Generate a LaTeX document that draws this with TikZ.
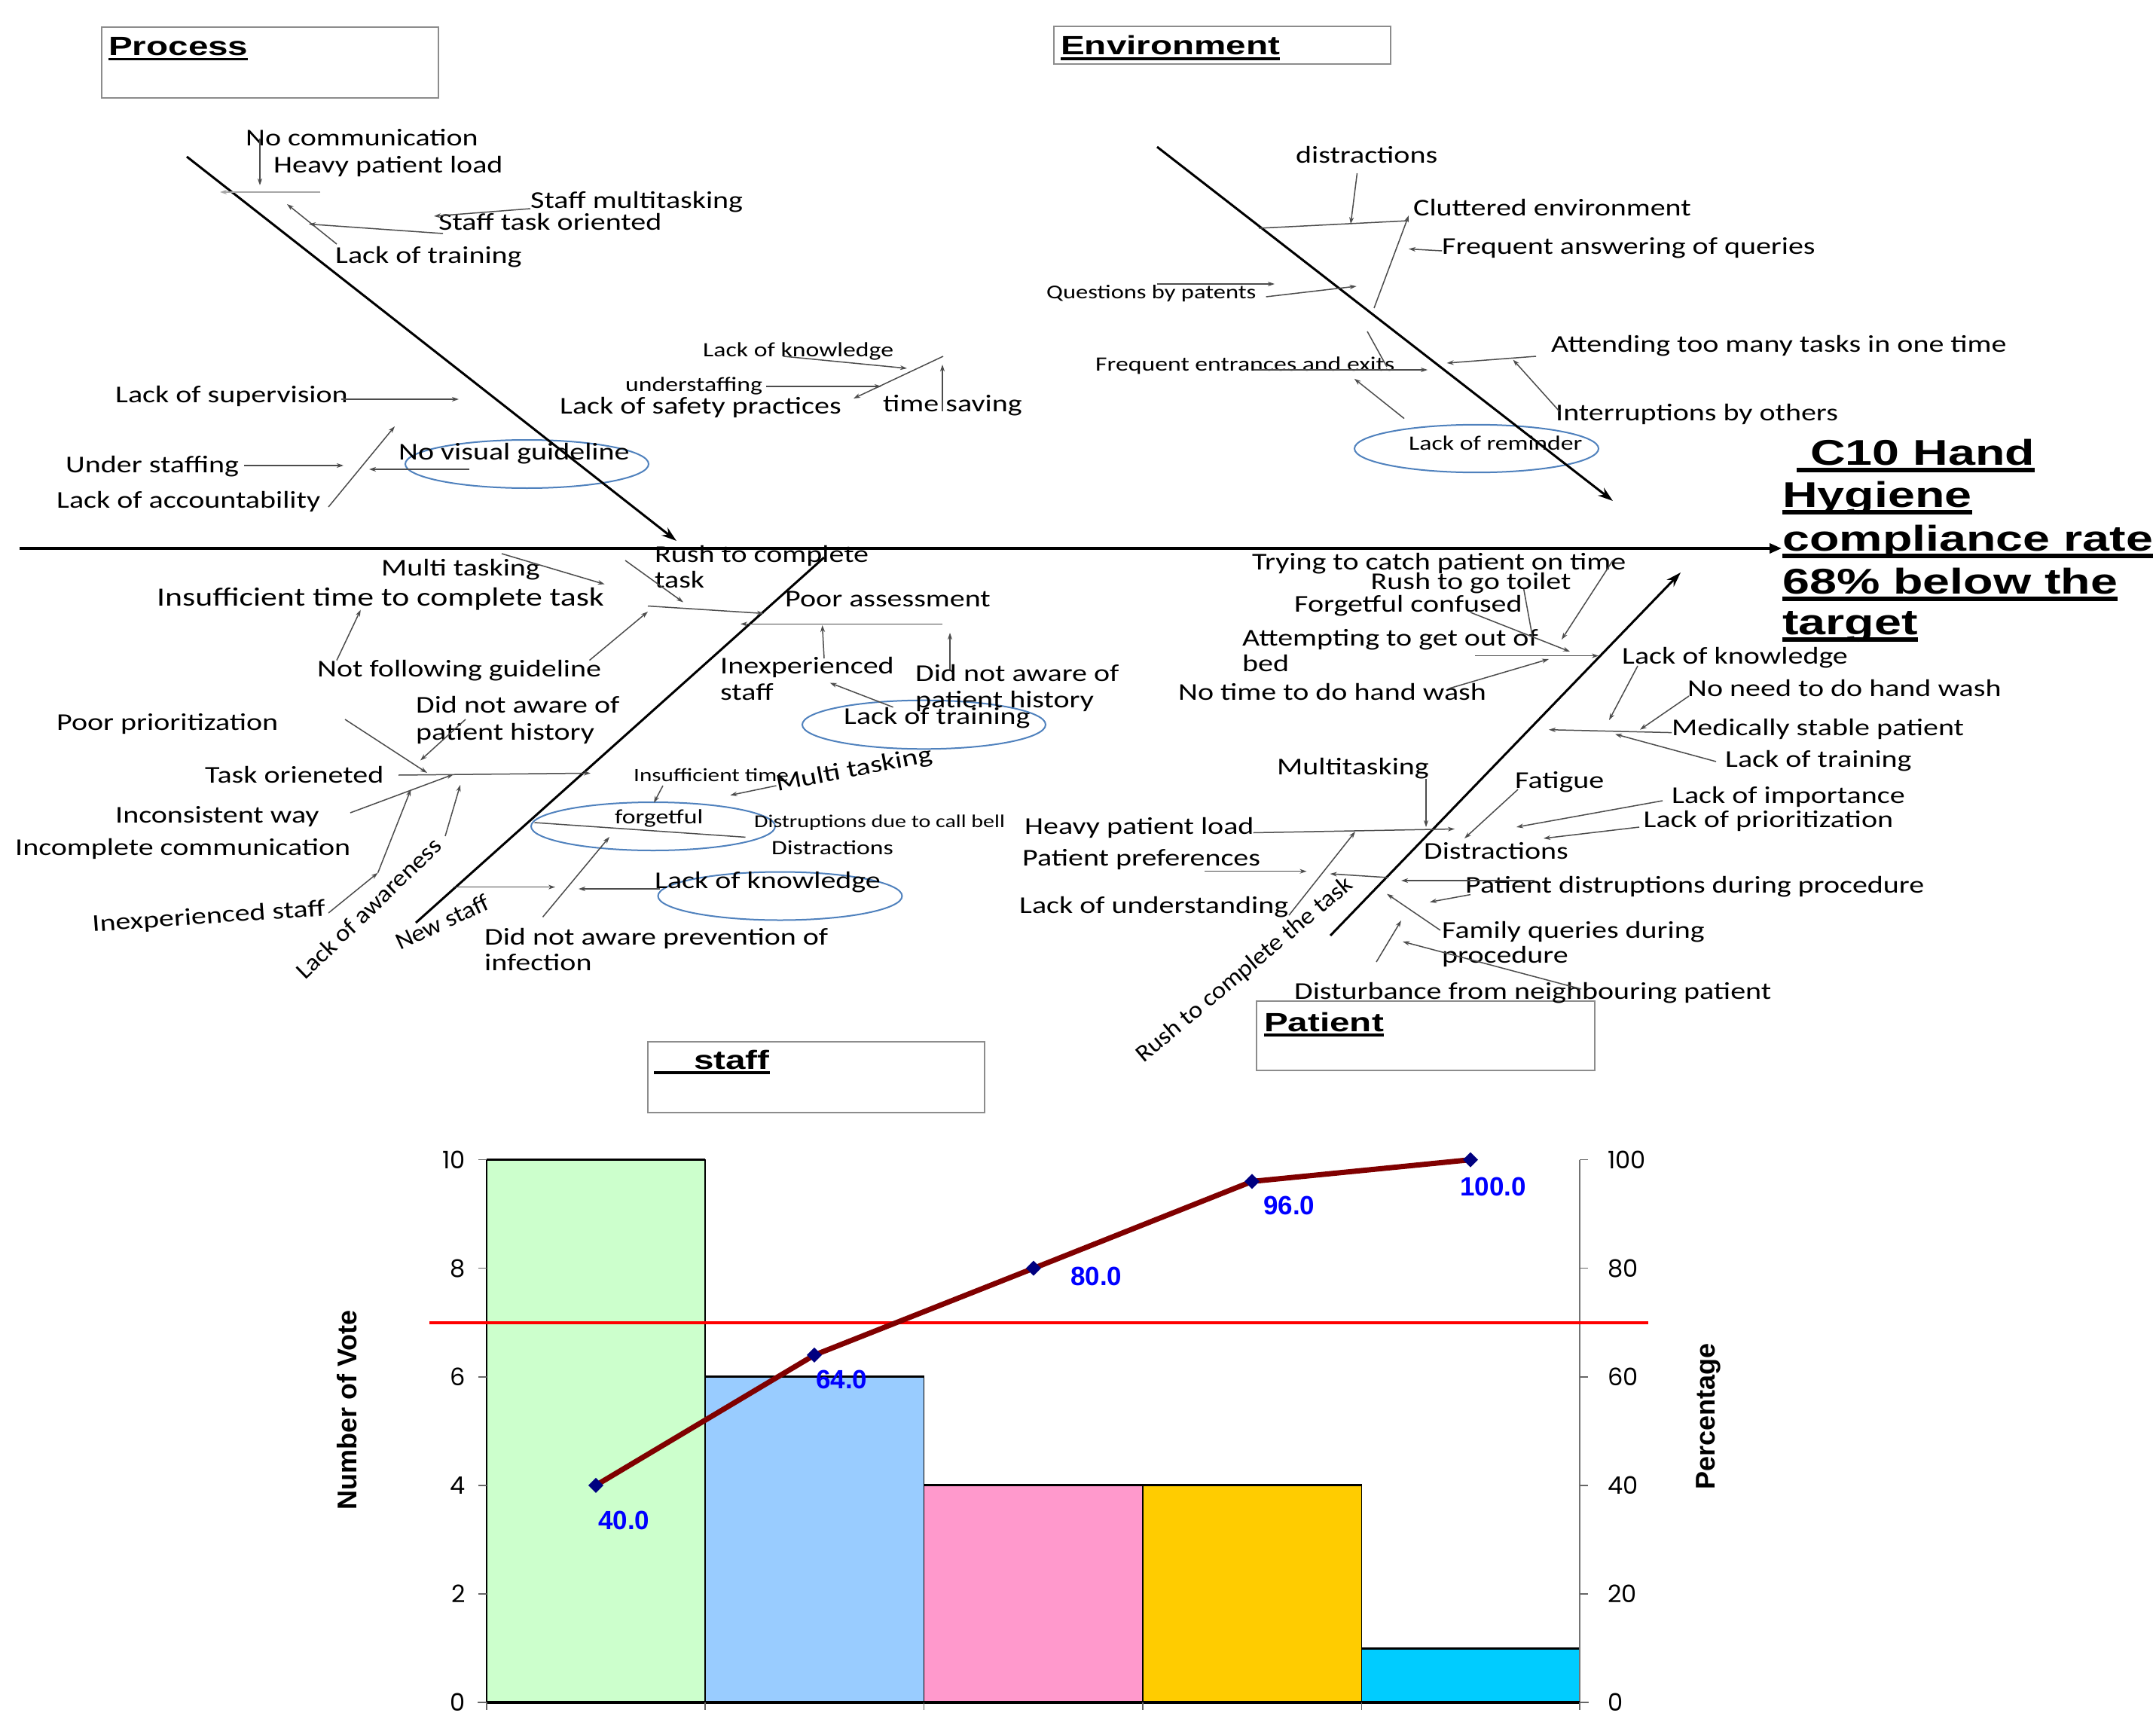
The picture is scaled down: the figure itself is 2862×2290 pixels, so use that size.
\documentclass[tikz,border=0pt]{standalone}
\usepackage{fontspec}
\setmainfont{Carlito}
\newfontfamily\calf[FakeStretch=1.25]{Carlito}
\newfontfamily\calr[FakeStretch=1.08]{Carlito}
\newfontfamily\arbf[FakeStretch=1.36]{Liberation Sans}
\newfontfamily\arpl{Liberation Sans}
\newfontfamily\popf{Poppins}
\usetikzlibrary{arrows.meta}
\newcommand\fsz[1]{\fontsize{#1}{#1}\selectfont}
\newcommand\myul[1]{\setbox0=\hbox{#1}\rlap{\rule[-0.2em]{\wd0}{0.11em}}\box0}
\definecolor{ellc}{RGB}{79,129,189}
\definecolor{barA}{HTML}{CCFFCC}
\definecolor{barB}{HTML}{99CCFF}
\definecolor{barC}{HTML}{FF99CC}
\definecolor{barD}{HTML}{FFCC00}
\definecolor{barE}{HTML}{00CCFF}
\definecolor{cum}{HTML}{800000}
\definecolor{navy}{HTML}{000080}
\tikzset{
  con/.style={draw=black!70, line width=1.5pt},
  arr/.style={con, -{Stealth[length=9pt,width=6pt]}},
  spine/.style={draw=black, line width=3pt},
  spinearr/.style={spine, -{Stealth[length=20pt,width=13pt]}},
  ell/.style={draw=ellc, line width=2pt},
  catbox/.style={draw=black!45, line width=1.5pt},
  t/.style={anchor=base west, inner sep=0pt, font=\calf\fsz{32}},
  ts/.style={t, font=\calf\fsz{27}},
  tr/.style={anchor=base west, inner sep=0pt, font=\calr\fsz{32}},
  hdr/.style={anchor=base west, inner sep=0pt, font=\arbf\bfseries\fsz{35}},
  ttl/.style={anchor=base west, inner sep=0pt, font=\arbf\bfseries\fsz{47.5}},
  tick/.style={inner sep=0pt, font=\popf\fsz{32}},
  dlab/.style={anchor=base west, inner sep=0pt, text=blue, font=\arpl\bfseries\fsz{35}},
  axt/.style={rotate=90, inner sep=0pt, font=\arpl\bfseries\fsz{36}},
}
\begin{document}
\begin{tikzpicture}[x=1pt,y=-1pt]
\fill[white] (0,0) rectangle (2862,2290);
\useasboundingbox (0,0) rectangle (2862,2290);

% ---------- main line ----------
\draw[line width=3.5pt, -{Triangle[length=16pt,width=13pt]}] (26,728) -- (2365,728);

% ---------- PROCESS ----------
\draw[catbox] (135,36) rectangle (582,130);
\node[hdr] (procT) at (144,73.5) {\myul{Process}};
\draw[ell] (699.5,616) ellipse [x radius=161.5, y radius=32];
\draw[spinearr] (248,208) -- (898,718);
\node[t] (pc1) at (326,194) {No communication};
\node[t] (pc2) at (363,230) {Heavy patient load};
\node[t] (pc3) at (704,277) {Staff multitasking};
\node[t] (pc4) at (582,306) {Staff task oriented};
\node[t] (pc5) at (445,350) {Lack of training};
\node[ts] (pc6) at (933,473) {Lack of knowledge};
\node[ts] (pc7) at (830,519) {understaffing};
\node[t] (pc8) at (743,549) {Lack of safety practices};
\node[t] (pc9) at (1172,546) {time saving};
\node[t] (pc10) at (153,534) {Lack of supervision};
\node[t] (pc11) at (87,627) {Under staffing};
\node[t] (pc12) at (75,674) {Lack of accountability};
\node[t] (pc13) at (529,610) {No visual guideline};
\draw[arr] (345,184) -- (345,246);
\draw[arr, draw=black!35] (425,255) -- (292,255);
\draw[arr] (704,277) -- (576,287);
\draw[arr] (588,310) -- (410,297.5);
\draw[arr] (447,324) -- (381,271);
\draw[arr] (1040,473) -- (1204,489);
\draw[arr] (1252,473) -- (1133,529);
\draw[arr] (1017,513) -- (1170,513);
\draw[arr] (1251,546) -- (1251,484);
\draw[arr] (453,530) -- (609,530);
\draw[arr] (436,673) -- (524,566);
\draw[arr] (324,618) -- (456,618);
\draw[arr] (623,623) -- (490,623);

% ---------- ENVIRONMENT ----------
\draw[catbox] (1399,35) rectangle (1846,85);
\node[hdr] (envT) at (1408,73) {\myul{Environment}};
\draw[ell] (1960,595.5) ellipse [x radius=162, y radius=31.7];
\draw[spinearr] (1536,195) -- (2141,665);
\node[t] (en1) at (1720,217) {distractions};
\node[t] (en2) at (1876,287) {Cluttered environment};
\node[t] (en3) at (1914,337.5) {Frequent answering of queries};
\node[t, font=\calf\fsz{26}] (en4) at (1389,397) {Questions by patents};
\node[t] (en5) at (2059,467) {Attending too many tasks in one time};
\node[t] (en6) at (2065,558) {Interruptions by others};
\node[ts] (en7) at (1454,492) {Frequent entrances and exits};
\node[ts] (en8) at (1870,597) {Lack of reminder};
\draw[arr] (1801.5,230) -- (1793,297.5);
\draw[con] (1671,303) -- (1870,293);
\draw[arr] (1824,409) -- (1870,286);
\draw[arr] (1914,333) -- (1870,330.5);
\draw[arr] (1536,377) -- (1692,377);
\draw[arr] (1680.6,394) -- (1800.6,380);
\draw[arr] (2039,473) -- (1920.6,482);
\draw[arr] (2070,546) -- (2008.5,477.5);
\draw[arr] (1663.6,491) -- (1895,491);
\draw[con] (1815,440) -- (1841,487);
\draw[arr] (1864,555.6) -- (1797.8,502.8);

% ---------- TITLE ----------
\node[ttl] (ti1) at (2385,617) {\myul{\ C10 Hand}};
\node[ttl] (ti2) at (2366,673) {\myul{Hygiene}};
\node[ttl] (ti3) at (2366,731) {\myul{compliance rate}};
\node[ttl] (ti4) at (2366,788) {\myul{68\% below the}};
\node[ttl] (ti5) at (2366,842) {\myul{target}};

% ---------- STAFF ----------
\draw[catbox] (860,1383) rectangle (1307,1477);
\node[hdr] (stT) at (868,1419) {\myul{\ \ \ \ staff}};
\draw[ell] (1226.5,962) ellipse [x radius=161.5, y radius=32.3];
\draw[ell] (1035.5,1189.5) ellipse [x radius=162, y radius=32];
\draw[ell] (867,1097) ellipse [x radius=162, y radius=32];
\draw[spine] (552,1225) -- (1094,740);
\node[t] (st1) at (869,746) {Rush to complete};
\node[t] (st2) at (869,780) {task};
\node[t] (st3) at (506,764) {Multi tasking};
\node[t, font=\calf\fsz{35}] (st4) at (208,804.5) {Insufficient time to complete task};
\node[t] (st5) at (421,898) {Not following guideline};
\node[t] (st6) at (1042,805.5) {Poor assessment};
\node[t] (st7) at (956,894) {Inexperienced};
\node[t] (st8) at (956,929) {staff};
\node[t] (st9) at (1215,904) {Did not aware of};
\node[t] (st10) at (1215,939) {patient history};
\node[t] (st11) at (1120,961) {Lack of training};
\node[t] (st12) at (552,946) {Did not aware of};
\node[t] (st13) at (552,982) {patient history};
\node[t] (st14) at (75,969) {Poor prioritization};
\node[t] (st15) at (272,1039) {Task orieneted};
\node[t] (st16) at (153,1092) {Inconsistent way};
\node[t] (st17) at (20,1135) {Incomplete communication};
\node[t, rotate=4] (st18) at (123,1237) {Inexperienced staff};
\node[tr, rotate=44] (st19) at (405,1302) {Lack of awareness};
\node[tr, rotate=25] (st20) at (531,1262) {New staff};
\node[t] (st21) at (869,1179) {Lack of knowledge};
\node[t] (st22) at (643,1254) {Did not aware prevention of};
\node[t] (st23) at (643,1288) {infection};
\node[ts] (st24) at (816,1093) {forgetful};
\node[t, font=\calf\fsz{25}] (st25) at (841,1037) {Insufficient time};
\node[t, rotate=11] (st26) at (1032,1051) {Multi tasking};
\node[t, font=\calf\fsz{24}] (st27) at (1001,1098) {Distruptions due to call bell};
\node[ts] (st28) at (1024,1134) {Distractions};
\draw[arr] (830,744) -- (907,799.5);
\draw[arr] (666,735) -- (802.6,775.6);
\draw[arr] (860,804.5) -- (1014,814.4);
\draw[arr] (782.5,876.6) -- (860,812);
\draw[arr] (447,876.6) -- (478.8,809.5);
\draw[arr] (1251,828.4) -- (983,828.4);
\draw[arr] (1094,874) -- (1091.6,830);
\draw[arr] (1261,889) -- (1261,840);
\draw[arr] (1185.6,938.8) -- (1101.7,906.5);
\draw[arr] (458,955) -- (567,1026);
\draw[arr] (618,955) -- (558,1009.5);
\draw[arr] (529,1029) -- (784,1026.4);
\draw[arr] (465,1079) -- (602,1028);
\draw[arr] (591,1110) -- (611,1042);
\draw[arr] (436,1212) -- (501.6,1158.7);
\draw[arr] (501.6,1158.7) -- (545.4,1048);
\draw[arr] (602,1177.6) -- (737,1177.6);
\draw[arr] (875.5,1180) -- (768,1180);
\draw[arr] (720.5,1217.4) -- (809,1111);
\draw[con] (709.5,1092) -- (989.5,1111.4);
\draw[arr] (880,1043) -- (868,1065.7);
\draw[arr] (1030.5,1043) -- (969.4,1055.7);

% ---------- PATIENT ----------
\draw[catbox] (1668,1329) rectangle (2117,1421);
\node[hdr] (paT) at (1678,1369) {\myul{Patient}};
\draw[spinearr] (1766,1242) -- (2231,760);
\node[t] (pa1) at (1662,756) {Trying to catch patient on time};
\node[t] (pa2) at (1819.5,782) {Rush to go toilet};
\node[t] (pa3) at (1718,812) {Forgetful confused};
\node[t] (pa4) at (1649,857) {Attempting to get out of};
\node[t] (pa5) at (1649,891.5) {bed};
\node[t] (pa6) at (1564,929) {No time to do hand wash};
\node[t] (pa7) at (2153,881.6) {Lack of knowledge};
\node[t] (pa8) at (2240,924) {No need to do hand wash};
\node[t] (pa9) at (2219,976) {Medically stable patient};
\node[t] (pa10) at (2290,1018) {Lack of training};
\node[t] (pa11) at (1695,1028) {Multitasking};
\node[t] (pa12) at (1360,1107) {Heavy patient load};
\node[t] (pa13) at (2011,1046) {Fatigue};
\node[t] (pa14) at (2219,1066) {Lack of importance};
\node[t] (pa15) at (2181.5,1098) {Lack of prioritization};
\node[t] (pa16) at (1890,1140) {Distractions};
\node[t] (pa17) at (1357,1149) {Patient preferences};
\node[t] (pa18) at (1945,1185) {Patient distruptions during procedure};
\node[t] (pa19) at (1353,1212.5) {Lack of understanding};
\node[t] (pa20) at (1914,1245) {Family queries during};
\node[t] (pa21) at (1914,1278) {procedure};
\node[t] (pa22) at (1718,1326) {Disturbance from neighbouring patient};
\node[tr, rotate=40] (pa23) at (1518,1412) {Rush to complete the task};
\draw[arr] (2141,744) -- (2073,849);
\draw[con] (2022.7,782) -- (2034,844);
\draw[arr] (1952,813) -- (2084,865);
\draw[arr] (1958,870.6) -- (2122,870.6);
\draw[arr] (1923.5,914) -- (2056,875);
\draw[arr] (2174,884) -- (2136,956);
\draw[arr] (2242,924) -- (2177,968.7);
\draw[arr] (2219,972.6) -- (2056,968.7);
\draw[arr] (2278,1011) -- (2144,974.6);
\draw[arr] (1893,1034) -- (1893,1098);
\draw[arr] (1663.6,1105.5) -- (1931,1100.5);
\draw[arr] (2015,1048) -- (1944,1113);
\draw[arr] (2207,1063) -- (2013,1098);
\draw[arr] (2176,1098) -- (2049,1113);
\draw[arr] (1599,1156.7) -- (1734.4,1156.7);
\draw[arr] (1843,1165) -- (1765.6,1160);
\draw[arr] (2037,1169) -- (1860,1169);
\draw[arr] (1952,1187.6) -- (1898,1197.5);
\draw[arr] (1711,1215) -- (1799,1104);
\draw[arr] (1912,1235) -- (1841,1186.6);
\draw[arr] (1827,1277) -- (1860,1222);
\draw[arr] (2099,1313) -- (1862,1250);

% ---------- PARETO CHART ----------
\draw[fill=barA, line width=1.5pt] (646,2260) rectangle (936,1539.6);
\draw[fill=barB, line width=1.5pt] (936,2260) rectangle (1226.5,1827.8);
\draw[fill=barC, line width=1.5pt] (1226.5,2260) rectangle (1517,1971.8);
\draw[fill=barD, line width=1.5pt] (1517,2260) rectangle (1807.5,1971.8);
\draw[fill=barE, line width=1.5pt] (1807.5,2260) rectangle (2097,2188);
\draw[line width=3pt] (646,1539.6) -- (936,1539.6);
\draw[line width=3pt] (936,1827.8) -- (1226.5,1827.8);
\draw[line width=3pt] (1226.5,1971.8) -- (1807.5,1971.8);
\draw[line width=3pt] (1807.5,2188) -- (2097,2188);
\draw[line width=1.5pt] (646,1539.6) -- (646,2260);
\draw[line width=1.5pt, black!55] (2097,1539.6) -- (2097,2260);
\draw[line width=1.5pt, black!55] (634,2260) -- (2109,2260);
\draw[line width=3.5pt] (646,2260) -- (2097,2260);
\foreach \k/\lab/\plab in {0/0/0,1/2/20,2/4/40,3/6/60,4/8/80,5/10/100}{
  \pgfmathsetmacro\yy{2260-144.08*\k}
  \draw[line width=1.5pt, black!60] (635,\yy) -- (646,\yy);
  \draw[line width=1.5pt, black!60] (2097,\yy) -- (2108,\yy);
  \node[tick, anchor=east] (yl\k) at (618,\yy) {\lab};
  \node[tick, anchor=west] (yr\k) at (2134,\yy) {\plab};
}
\foreach \xx in {646,936,1226.5,1517,1807.5,2097}{
  \draw[line width=1.2pt, black!60] (\xx,2260) -- (\xx,2270);
}
\draw[red, line width=4.5pt] (570,1756) -- (2188,1756);
\draw[cum, line width=7pt, line join=round] (791,1971.8) -- (1081,1798.9) -- (1372,1683.7) -- (1662,1568.4) -- (1952,1539.6);
\foreach \px/\py in {791/1971.8,1081/1798.9,1372/1683.7,1662/1568.4,1952/1539.6}{
  \fill[navy] (\px,\py-10) -- (\px+10,\py) -- (\px,\py+10) -- (\px-10,\py) -- cycle;
}
\node[dlab] (d1) at (794,2030) {40.0};
\node[dlab] (d2) at (1083,1843) {64.0};
\node[dlab] (d3) at (1421,1706) {80.0};
\node[dlab] (d4) at (1677,1612) {96.0};
\node[dlab] (d5) at (1938,1587) {100.0};
\node[axt] (ylab) at (461,1872) {Number of Vote};
\node[axt] (ylabr) at (2268,1880) {Percentage};
\end{tikzpicture}
\end{document}
